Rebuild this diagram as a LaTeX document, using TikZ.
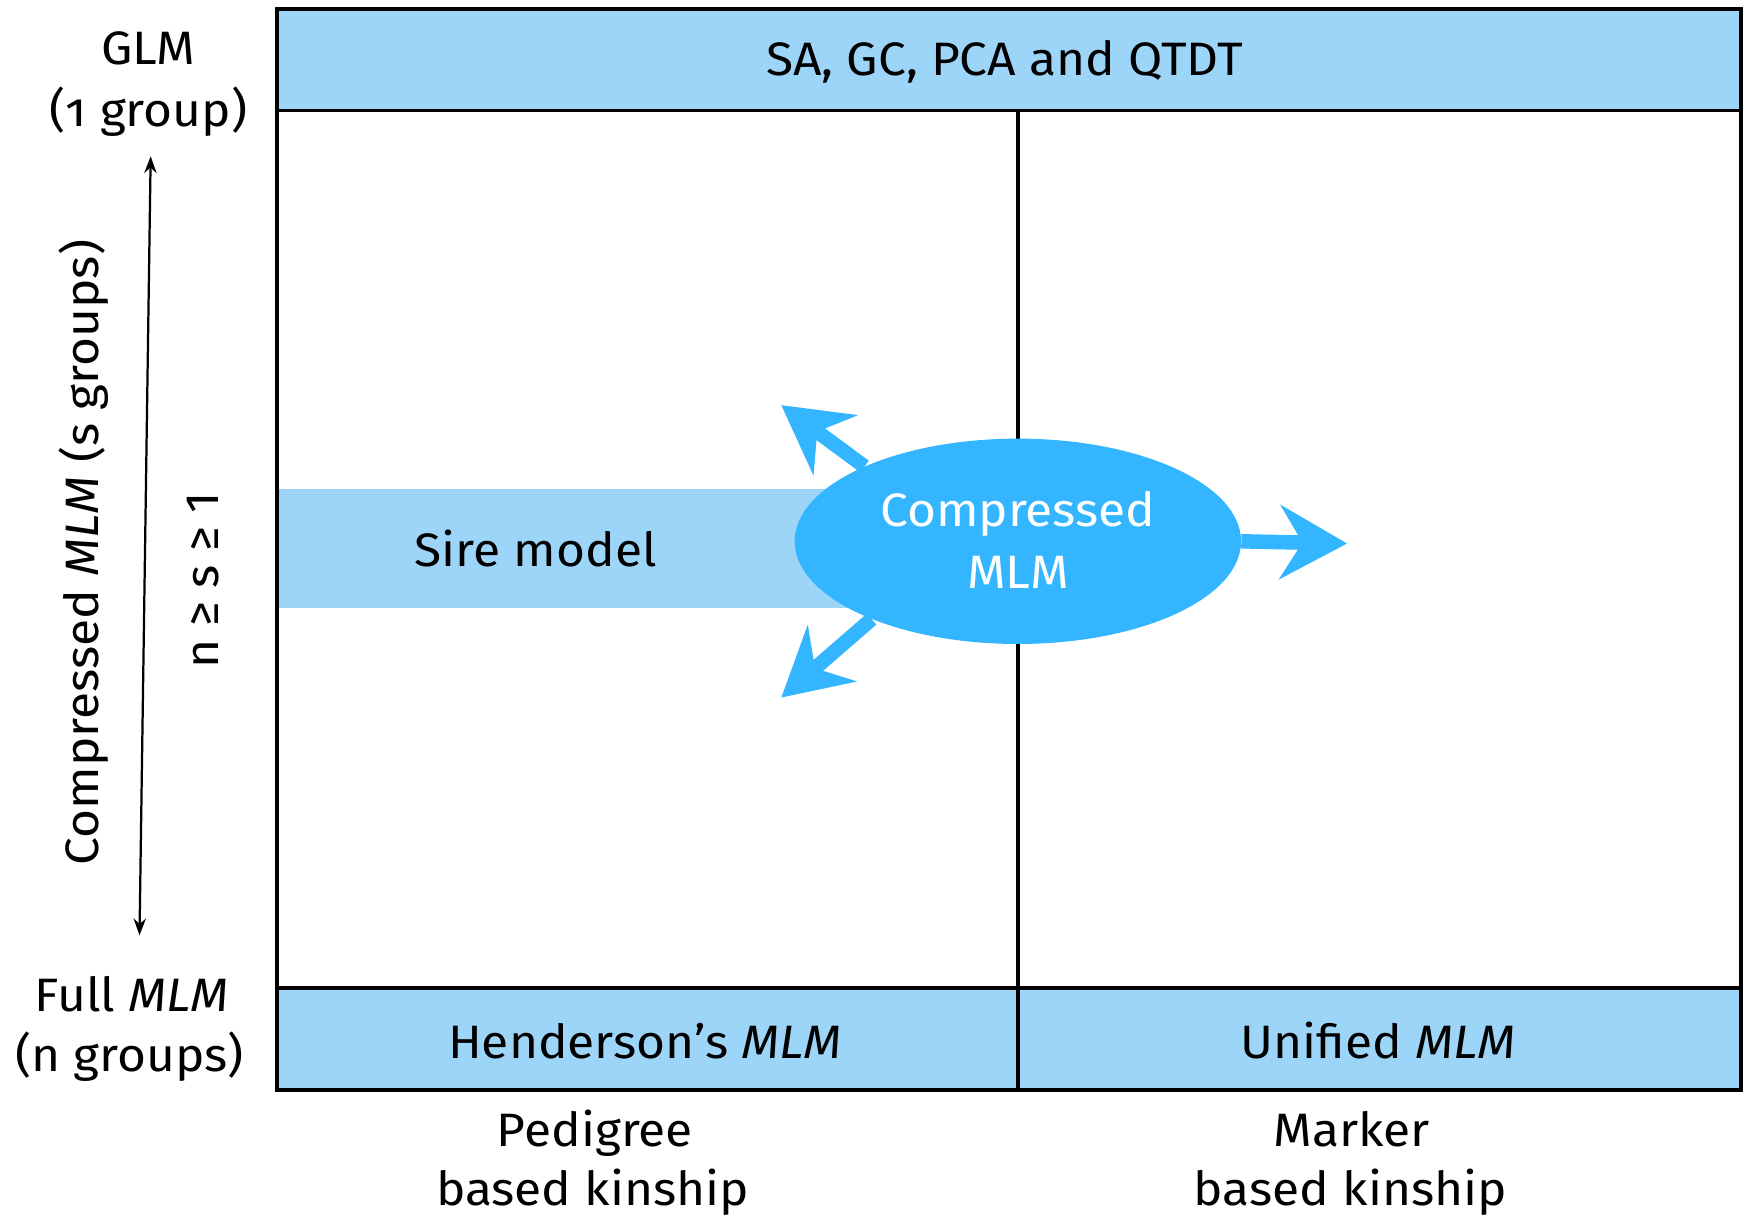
\documentclass[tikz,border=0pt]{standalone}
\usepackage{fontspec}
\setmainfont[FakeStretch=1.06]{Fira Sans}
\usetikzlibrary{arrows.meta,shapes.geometric}
\definecolor{band}{RGB}{157,213,248}
\definecolor{ell}{RGB}{51,182,255}
\begin{document}
\begin{tikzpicture}[x=1pt,y=-1pt,
  txt/.style={inner sep=0, anchor=base, font=\fontsize{42}{56}\selectfont},
  frame/.style={line width=3.5pt, black},
  bluearrow/.style={ell, line width=13pt, -{Stealth[length=60pt, width=66pt, inset=20pt]}},
  axisarrow/.style={line width=2pt, {Stealth[length=15pt,width=11pt]}-{Stealth[length=15pt,width=11pt]}}]
\useasboundingbox (0,0) rectangle (1568,1093);
% bands
\fill[band] (248,8) rectangle (1560,99);
\fill[band] (248,885) rectangle (1560,977);
\fill[band] (250,438) rectangle (820,545);
% frame
\draw[frame] (248,8) rectangle (1560,977);
\draw[frame] (248,99) -- (1560,99);
\draw[frame] (248,885) -- (1560,885);
\draw[frame] (912,99) -- (912,977);
% ellipse
\node[ellipse, fill=ell, minimum width=400pt, minimum height=184pt, inner sep=0] (cm) at (912,485) {};
\node[txt, white] (cm1) at (912,472) {Compressed};
\node[txt, white] (cm2) at (912,527) {MLM};
% arrows
\coordinate (tipR) at (1207,487);
\coordinate (tipUL) at (700,363);
\coordinate (tipDL) at (700,625);
\draw[bluearrow] (cm.east) -- (tipR);
\draw[bluearrow] (cm.154) -- (tipUL);
\draw[bluearrow] (cm.208) -- (tipDL);
% texts
\node[txt] (top) at (900,68) {SA, GC, PCA and QTDT};
\node[txt] (sire) at (480,508) {Sire model};
\node[txt] (hend) at (578,948) {Henderson’s \textit{MLM}};
\node[txt] (unif) at (1235,948) {Unified \textit{MLM}};
\node[txt] (glm) at (133,58) {GLM};
\node[txt] (glm2) at (133,113) {(\addfontfeatures{Numbers=OldStyle}1 group)};
\node[txt] (full) at (118,906) {Full \textit{MLM}};
\node[txt] (full2) at (116,960) {(n groups)};
\node[txt] (ped) at (533,1027) {Pedigree};
\node[txt] (ped2) at (531,1080) {based kinship};
\node[txt] (mark) at (1211,1027) {Marker};
\node[txt] (mark2) at (1210,1080) {based kinship};
\node[txt, rotate=90] (cmlm) at (88,495) {Compressed \textit{MLM} (s groups)};
\node[txt, rotate=90] (ineq) at (196,520) {n ≥ s ≥ 1};
% axis arrow
\coordinate (axtop) at (135,140);
\coordinate (axbot) at (125,838);
\draw[axisarrow] (axtop) -- (axbot);
\end{tikzpicture}
\end{document}
